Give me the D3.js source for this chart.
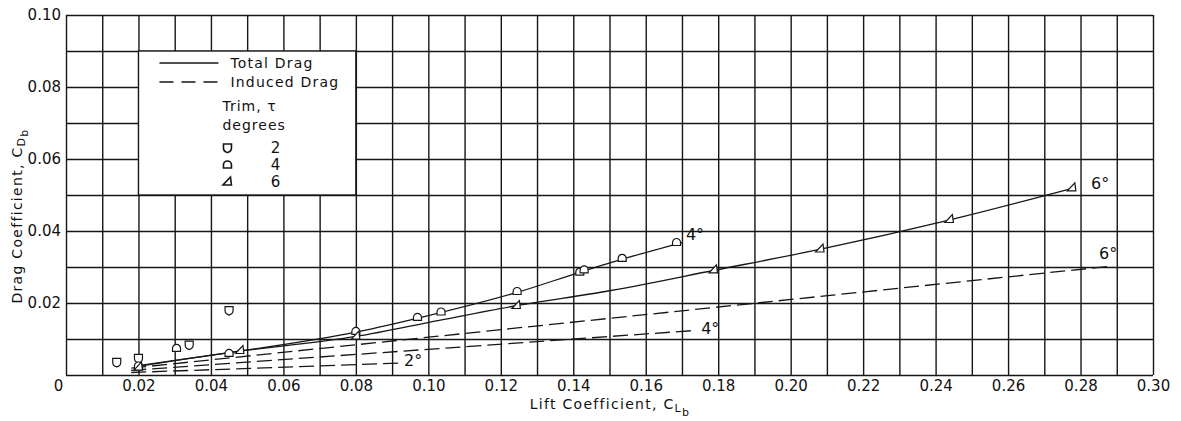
<!DOCTYPE html>
<html>
<head>
<meta charset="utf-8">
<script src="https://cdn.jsdelivr.net/npm/d3@7"></script>
<style>
  body { margin: 0; background: #fff; }
  text { font-family: "DejaVu Sans", sans-serif; fill: #111; }
</style>
</head>
<body>
<div id="chart"></div>
<script>
// tick labels
const xLabelTicks = [0, 0.02, 0.04, 0.06, 0.08, 0.10, 0.12, 0.14, 0.16, 0.18, 0.20, 0.22, 0.24, 0.26, 0.28, 0.30];
const xLabelText  = ["0", "0.02", "0.04", "0.06", "0.08", "0.10", "0.12", "0.14", "0.16", "0.18", "0.20", "0.22", "0.24", "0.26", "0.28", "0.30"];
const yLabelTicks = [0.02, 0.04, 0.06, 0.08, 0.10];
const yLabelText  = ["0.02", "0.04", "0.06", "0.08", "0.10"];

// test points [C_L, C_D] for each trim
const trim2Points = [[0.014, 0.0035], [0.020, 0.0046], [0.034, 0.0083], [0.045, 0.0179]];
const trim4Points = [[0.020, 0.0025], [0.0305, 0.0074], [0.045, 0.0060], [0.080, 0.0121], [0.097, 0.0160],
                     [0.1035, 0.0175], [0.1245, 0.0232], [0.1418, 0.0286], [0.1430, 0.0292], [0.1535, 0.0324], [0.1685, 0.0368]];
const trim6Points = [[0.020, 0.0022], [0.048, 0.0068], [0.080, 0.0108], [0.1243, 0.0193], [0.1787, 0.0292],
                     [0.2081, 0.0350], [0.2438, 0.0432], [0.2776, 0.0520]];

// faired curves
const total4Curve = [[0.020, 0.0026], [0.045, 0.0062], [0.080, 0.0119], [0.100, 0.0165], [0.125, 0.0231],
                     [0.142, 0.0286], [0.155, 0.0326], [0.170, 0.0368]];
const total6Curve = [[0.020, 0.0024], [0.045, 0.0062], [0.080, 0.0107], [0.103, 0.0152], [0.124, 0.0192],
                     [0.150, 0.0234], [0.179, 0.0291], [0.208, 0.0349], [0.244, 0.0431], [0.278, 0.0519]];
const induced2Line = [[0.018, 0.0007], [0.092, 0.0033]];
const induced4Line = [[0.018, 0.0013], [0.174, 0.0124]];
const induced6Line = [[0.018, 0.0019], [0.289, 0.0303]];

// curve labels at [C_L, C_D]
const curveLabels = [
  { text: "4°", at: [0.1736, 0.0392] },
  { text: "6°", at: [0.2854, 0.0533] },
  { text: "6°", at: [0.2876, 0.0339] },
  { text: "4°", at: [0.1778, 0.0131] },
  { text: "2°", at: [0.0958, 0.0042] }
];

const W = 1181, H = 421;
const svg = d3.select("#chart").append("svg")
  .attr("width", W)
  .attr("height", H);

const x = d3.scaleLinear().domain([0, 0.30]).range([66, 1153]);
const y = d3.scaleLinear().domain([0, 0.10]).range([375, 15]);

const gridX = d3.range(31).map(i => i / 100);
const gridY = d3.range(11).map(i => i / 100);
const ink = "#161616";

// GRID (axes with full-length ticks)
svg.append("g")
  .attr("transform", `translate(0,${y(0)})`)
  .call(d3.axisBottom(x).tickValues(gridX).tickSize(-(y(0) - y(0.10))).tickFormat(""))
  .call(g => g.select(".domain").remove())
  .call(g => g.selectAll("line").attr("stroke", ink).attr("stroke-width", 1.4));

svg.append("g")
  .attr("transform", `translate(${x(0)},0)`)
  .call(d3.axisLeft(y).tickValues(gridY).tickSize(-(x(0.30) - x(0))).tickFormat(""))
  .call(g => g.select(".domain").remove())
  .call(g => g.selectAll("line").attr("stroke", ink).attr("stroke-width", 1.4));

// tick labels
const xAxis = svg.append("g")
  .attr("transform", `translate(0,${y(0)})`)
  .call(d3.axisBottom(x).tickValues(xLabelTicks).tickSize(0).tickPadding(5)
    .tickFormat((d, i) => xLabelText[i]));
xAxis.select(".domain").remove();
xAxis.selectAll("text")
  .style("font-size", "15px")
  .attr("fill", ink)
  .attr("dx", d => d === 0 ? -8 : 0);

const yAxis = svg.append("g")
  .attr("transform", `translate(${x(0)},0)`)
  .call(d3.axisLeft(y).tickValues(yLabelTicks).tickSize(0).tickPadding(5)
    .tickFormat((d, i) => yLabelText[i]));
yAxis.select(".domain").remove();
yAxis.selectAll("text").style("font-size", "15px").attr("fill", ink);

// axis titles
const xTitle = svg.append("text")
  .attr("x", 610).attr("y", 409)
  .attr("text-anchor", "middle")
  .style("font-size", "14px")
  .style("letter-spacing", "1.3px");
xTitle.append("tspan").text("Lift Coefficient, C");
xTitle.append("tspan").attr("dy", 3).style("font-size", "11px").text("L");
xTitle.append("tspan").attr("dy", 4).style("font-size", "11px").text("b");

const yTitle = svg.append("text")
  .attr("transform", "translate(22,216) rotate(-90)")
  .attr("text-anchor", "middle")
  .style("font-size", "14px")
  .style("letter-spacing", "1.3px");
yTitle.append("tspan").text("Drag Coefficient, C");
yTitle.append("tspan").attr("dy", 3).style("font-size", "11px").text("D");
yTitle.append("tspan").attr("dy", 3).style("font-size", "11px").text("b");

// CURVES
const line = d3.line().x(d => x(d[0])).y(d => y(d[1])).curve(d3.curveMonotoneX);

[total4Curve, total6Curve].forEach(c => {
  svg.append("path").datum(c)
    .attr("d", line)
    .attr("fill", "none")
    .attr("stroke", ink)
    .attr("stroke-width", 1.3);
});

[induced2Line, induced4Line, induced6Line].forEach(c => {
  svg.append("path").datum(c)
    .attr("d", line)
    .attr("fill", "none")
    .attr("stroke", ink)
    .attr("stroke-width", 1.3)
    .attr("stroke-dasharray", "15,6");
});

// symbol shapes
const shapes = {
  2: "M-4,-4H4V0Q4,3.5 0,4.5Q-4,3.5 -4,0Z",
  4: "M-4,3H4V0A4,4 0 0 0 -4,0Z",
  6: "M-4.5,3H4L3,-5Z"
};

function drawMarks(pts, key) {
  svg.append("g").selectAll("path")
    .data(pts)
    .join("path")
    .attr("transform", d => `translate(${x(d[0])},${y(d[1])})`)
    .attr("d", shapes[key])
    .attr("fill", "#fff")
    .attr("stroke", ink)
    .attr("stroke-width", 1.2);
}
drawMarks(trim2Points, 2);
drawMarks(trim4Points, 4);
drawMarks(trim6Points, 6);

// curve labels
svg.append("g").selectAll("text")
  .data(curveLabels)
  .join("text")
  .attr("x", d => x(d.at[0]))
  .attr("y", d => y(d.at[1]))
  .attr("dy", "0.36em")
  .attr("text-anchor", "middle")
  .style("font-size", "16px")
  .text(d => d.text);

// LEGEND (blank box over the grid)
const lx = x(0.02), ly = y(0.09);
svg.append("rect")
  .attr("x", lx).attr("y", ly)
  .attr("width", x(0.08) - x(0.02))
  .attr("height", y(0.05) - y(0.09))
  .attr("fill", "#fff")
  .attr("stroke", ink)
  .attr("stroke-width", 1.4);

const leg = svg.append("g").attr("transform", `translate(${lx},${ly})`);
leg.append("line").attr("x1", 21).attr("x2", 80).attr("y1", 12).attr("y2", 12)
  .attr("stroke", ink).attr("stroke-width", 1.4);
leg.append("line").attr("x1", 21).attr("x2", 80).attr("y1", 31).attr("y2", 31)
  .attr("stroke", ink).attr("stroke-width", 1.4).attr("stroke-dasharray", "14,8");
leg.append("text").attr("x", 92).attr("y", 17).style("font-size", "14px")
  .style("letter-spacing", "1.2px").text("Total Drag");
leg.append("text").attr("x", 92).attr("y", 36).style("font-size", "14px")
  .style("letter-spacing", "1.2px").text("Induced Drag");
leg.append("text").attr("x", 84).attr("y", 60).style("font-size", "14px")
  .style("letter-spacing", "1px").text("Trim, τ");
leg.append("text").attr("x", 84).attr("y", 79).style("font-size", "14px")
  .style("letter-spacing", "1px").text("degrees");

[2, 4, 6].forEach((k, i) => {
  const yy = 97 + i * 17;
  leg.append("path")
    .attr("transform", `translate(89,${yy})`)
    .attr("d", shapes[k])
    .attr("fill", "#fff")
    .attr("stroke", ink)
    .attr("stroke-width", 1.6);
  leg.append("text")
    .attr("x", 137).attr("y", yy)
    .attr("dy", "0.36em")
    .attr("text-anchor", "middle")
    .style("font-size", "15px")
    .text(k);
});
</script>
</body>
</html>
